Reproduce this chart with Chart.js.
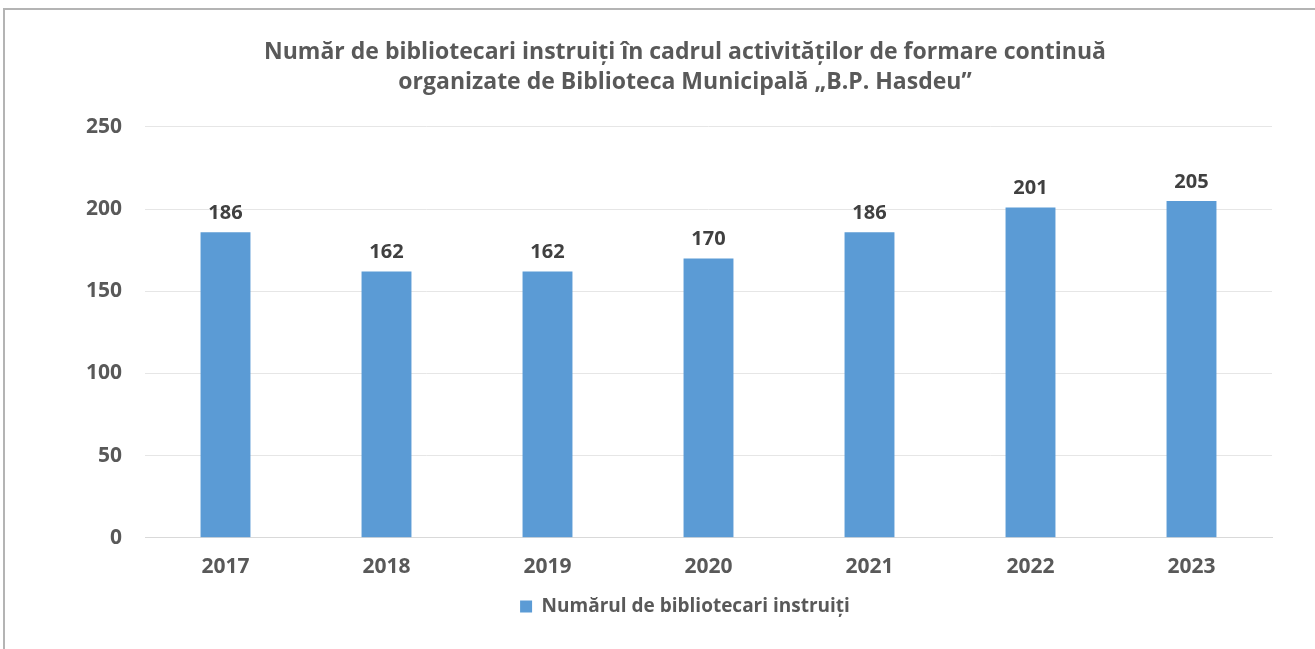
<!DOCTYPE html>
<html>
<head>
<meta charset="utf-8">
<script src="https://cdn.jsdelivr.net/npm/chart.js@4"></script>
<style>
  html, body { margin: 0; padding: 0; background: #ffffff; }
  #wrap { position: relative; width: 1315px; height: 649px; }
  #frame { position: absolute; left: 3px; top: 8px; right: 0; bottom: 0; border-top: 2px solid #b4b4b4; border-left: 2px solid #b4b4b4; pointer-events: none; }
  canvas { position: absolute; left: 0; top: 0; }
</style>
</head>
<body>
<div id="wrap">
  <canvas id="c" width="1315" height="649"></canvas>
  <div id="frame"></div>
</div>
<script>
const categories = ["2017", "2018", "2019", "2020", "2021", "2022", "2023"];
const seriesName = "Numărul de bibliotecari instruiți";
const values = [186, 162, 162, 170, 186, 201, 205];
const yTicks = [0, 50, 100, 150, 200, 250];
const titleLines = [
  "Număr de bibliotecari instruiți în cadrul activităților de formare continuă",
  "organizate de Biblioteca Municipală „B.P. Hasdeu”"
];

const FONT = "'Open Sans', 'DejaVu Sans', sans-serif";
const TEXT = "#595959";

const valueLabels = {
  id: "valueLabels",
  afterDatasetsDraw(chart) {
    const ctx = chart.ctx;
    ctx.save();
    ctx.font = "bold 20px " + FONT;
    ctx.fillStyle = "#404040";
    ctx.textAlign = "center";
    ctx.textBaseline = "bottom";
    chart.getDatasetMeta(0).data.forEach((bar, i) => {
      ctx.fillText(String(values[i]), bar.x, bar.y - 9);
    });
    ctx.restore();
  }
};

new Chart(document.getElementById("c"), {
  type: "bar",
  data: {
    labels: categories,
    datasets: [{
      label: seriesName,
      data: values,
      backgroundColor: "#5b9bd5",
      borderWidth: 0,
      barPercentage: 0.31,
      categoryPercentage: 1.0
    }]
  },
  options: {
    responsive: false,
    animation: false,
    devicePixelRatio: 1,
    layout: { padding: { top: 37, right: 0, bottom: 23, left: 55 } },
    plugins: {
      title: {
        display: true,
        text: titleLines,
        color: TEXT,
        font: { family: FONT, size: 23, weight: "bold", lineHeight: 1.304 },
        padding: { top: 0, bottom: 30 }
      },
      legend: {
        display: true,
        position: "bottom",
        labels: {
          color: TEXT,
          font: { family: FONT, size: 19, weight: "bold" },
          boxWidth: 12,
          boxHeight: 12,
          padding: 0
        }
      },
      tooltip: { enabled: false }
    },
    scales: {
      x: {
        grid: { display: false, drawTicks: false },
        border: { display: true, color: "#d9d9d9", width: 1 },
        ticks: { color: TEXT, font: { family: FONT, size: 21, weight: "bold" }, padding: 17 }
      },
      y: {
        min: 0,
        max: 250,
        afterBuildTicks(scale) { scale.ticks = yTicks.map(v => ({ value: v })); },
        afterFit(scale) { scale.width = 90; },
        grid: { color: "#e6e6e6", drawTicks: false },
        border: { display: false },
        ticks: { color: TEXT, font: { family: FONT, size: 21, weight: "bold" }, padding: 23 }
      },
      yRight: {
        position: "right",
        display: true,
        min: 0,
        max: 250,
        afterFit(scale) { scale.width = 43; },
        grid: { display: false, drawTicks: false },
        border: { display: false },
        ticks: { display: false }
      }
    }
  },
  plugins: [valueLabels]
});
</script>
</body>
</html>
